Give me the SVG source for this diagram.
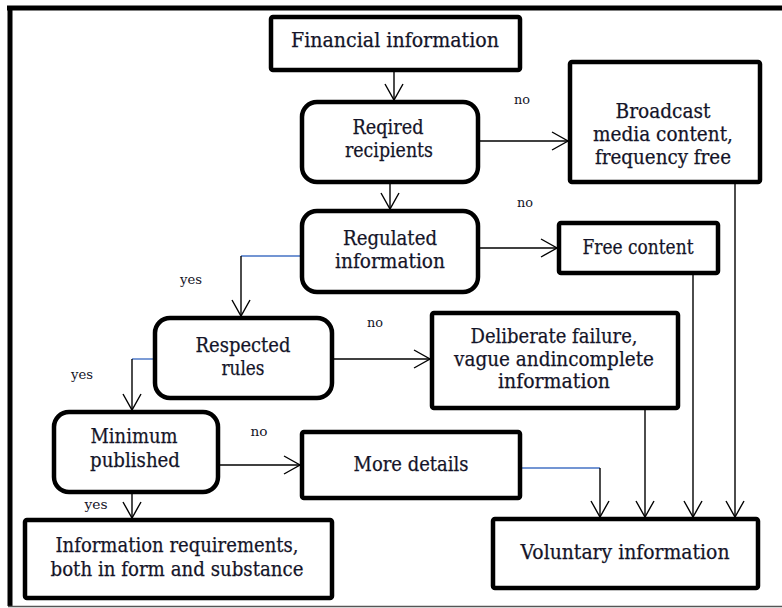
<svg xmlns="http://www.w3.org/2000/svg" width="782" height="608" viewBox="0 0 782 608">
<style>
.box{fill:#fff;stroke:#000;stroke-width:4.5}
.t{font-family:'DejaVu Serif','Liberation Serif',serif;font-size:20px;fill:#141428;stroke:#141428;stroke-width:0.25;text-anchor:middle}
.lb{font-family:'DejaVu Serif','Liberation Serif',serif;font-size:12px;fill:#141428;text-anchor:middle}
.c{fill:none;stroke:#000;stroke-width:1.4}
.b{fill:none;stroke:#4472c4;stroke-width:1.4}
</style>
<defs>
<marker id="arr" markerUnits="userSpaceOnUse" markerWidth="20" markerHeight="22" refX="17" refY="10" orient="auto">
<path d="M1,1 L17,10 L1,19" fill="none" stroke="#000" stroke-width="1.4"/>
</marker>
</defs>
<rect x="0" y="0" width="782" height="608" fill="#fff"/>
<g id="frame">
<line x1="7" y1="8" x2="782" y2="8" stroke="#000" stroke-width="5"/>
<line x1="10" y1="6" x2="10" y2="606" stroke="#000" stroke-width="5"/>
<line x1="8" y1="606.5" x2="782" y2="606.5" stroke="#555" stroke-width="1.5"/>
</g>
<g id="connectors">
<line class="c" x1="394" y1="70" x2="394" y2="100" marker-end="url(#arr)"/>
<line class="c" x1="390" y1="182" x2="390" y2="209" marker-end="url(#arr)"/>
<line class="c" x1="478" y1="141" x2="568" y2="141" marker-end="url(#arr)"/>
<line class="c" x1="478" y1="248" x2="557" y2="248" marker-end="url(#arr)"/>
<path class="b" d="M302,256 H241"/>
<line class="c" x1="241" y1="256" x2="241" y2="316" marker-end="url(#arr)"/>
<line class="c" x1="332" y1="359" x2="430" y2="359" marker-end="url(#arr)"/>
<path class="b" d="M155,359 H132"/>
<line class="c" x1="132" y1="359" x2="132" y2="410" marker-end="url(#arr)"/>
<line class="c" x1="218" y1="465" x2="300" y2="465" marker-end="url(#arr)"/>
<line class="c" x1="132" y1="492" x2="132" y2="518" marker-end="url(#arr)"/>
<path class="b" d="M520,468 H600"/>
<line class="c" x1="600" y1="468" x2="600" y2="517" marker-end="url(#arr)"/>
<line class="c" x1="645" y1="408" x2="645" y2="517" marker-end="url(#arr)"/>
<line class="c" x1="693" y1="273" x2="693" y2="517" marker-end="url(#arr)"/>
<line class="c" x1="735" y1="182" x2="735" y2="517" marker-end="url(#arr)"/>
<text class="lb" x="522" y="104" textLength="16" lengthAdjust="spacingAndGlyphs">no</text>
<text class="lb" x="525" y="207" textLength="16" lengthAdjust="spacingAndGlyphs">no</text>
<text class="lb" x="191" y="284" textLength="22" lengthAdjust="spacingAndGlyphs">yes</text>
<text class="lb" x="375" y="327" textLength="16" lengthAdjust="spacingAndGlyphs">no</text>
<text class="lb" x="82" y="379" textLength="22" lengthAdjust="spacingAndGlyphs">yes</text>
<text class="lb" x="259" y="436" textLength="17" lengthAdjust="spacingAndGlyphs">no</text>
<text class="lb" x="96" y="509" textLength="23" lengthAdjust="spacingAndGlyphs">yes</text>
</g>
<g id="financial">
<rect class="box" x="271" y="17" width="249" height="53" rx="2"/>
<text class="t" x="395" y="47" textLength="208" lengthAdjust="spacingAndGlyphs">Financial information</text>
</g>
<g id="reqired">
<rect class="box" x="302" y="102" width="176" height="80" rx="15"/>
<text class="t" x="388" y="134" textLength="71" lengthAdjust="spacingAndGlyphs">Reqired</text>
<text class="t" x="389" y="157" textLength="88" lengthAdjust="spacingAndGlyphs">recipients</text>
</g>
<g id="broadcast">
<rect class="box" x="570" y="62" width="190" height="120" rx="2"/>
<text class="t" x="663" y="118" textLength="95" lengthAdjust="spacingAndGlyphs">Broadcast</text>
<text class="t" x="663" y="141" textLength="140" lengthAdjust="spacingAndGlyphs">media content,</text>
<text class="t" x="663" y="164" textLength="136" lengthAdjust="spacingAndGlyphs">frequency free</text>
</g>
<g id="regulated">
<rect class="box" x="302" y="211" width="176" height="81" rx="15"/>
<text class="t" x="390" y="245" textLength="94" lengthAdjust="spacingAndGlyphs">Regulated</text>
<text class="t" x="390" y="268" textLength="110" lengthAdjust="spacingAndGlyphs">information</text>
</g>
<g id="free">
<rect class="box" x="559" y="223" width="159" height="50" rx="2"/>
<text class="t" x="638" y="254" textLength="111" lengthAdjust="spacingAndGlyphs">Free content</text>
</g>
<g id="respected">
<rect class="box" x="155" y="318" width="177" height="80" rx="15"/>
<text class="t" x="243" y="352" textLength="95" lengthAdjust="spacingAndGlyphs">Respected</text>
<text class="t" x="243" y="375" textLength="43" lengthAdjust="spacingAndGlyphs">rules</text>
</g>
<g id="deliberate">
<rect class="box" x="432" y="313" width="246" height="95" rx="2"/>
<text class="t" x="554" y="343" textLength="167" lengthAdjust="spacingAndGlyphs">Deliberate failure,</text>
<text class="t" x="554" y="366" textLength="200" lengthAdjust="spacingAndGlyphs">vague andincomplete</text>
<text class="t" x="554" y="388" textLength="112" lengthAdjust="spacingAndGlyphs">information</text>
</g>
<g id="minimum">
<rect class="box" x="54" y="412" width="164" height="80" rx="15"/>
<text class="t" x="134" y="443" textLength="87" lengthAdjust="spacingAndGlyphs">Minimum</text>
<text class="t" x="135" y="467" textLength="90" lengthAdjust="spacingAndGlyphs">published</text>
</g>
<g id="more">
<rect class="box" x="302" y="432" width="218" height="66" rx="2"/>
<text class="t" x="411" y="471" textLength="115" lengthAdjust="spacingAndGlyphs">More details</text>
</g>
<g id="inforeq">
<rect class="box" x="25" y="520" width="307" height="78" rx="2"/>
<text class="t" x="177" y="552" textLength="243" lengthAdjust="spacingAndGlyphs">Information requirements,</text>
<text class="t" x="177" y="576" textLength="253" lengthAdjust="spacingAndGlyphs">both in form and substance</text>
</g>
<g id="voluntary">
<rect class="box" x="493" y="519" width="265" height="69" rx="2"/>
<text class="t" x="625" y="559" textLength="209" lengthAdjust="spacingAndGlyphs">Voluntary information</text>
</g>
</svg>
